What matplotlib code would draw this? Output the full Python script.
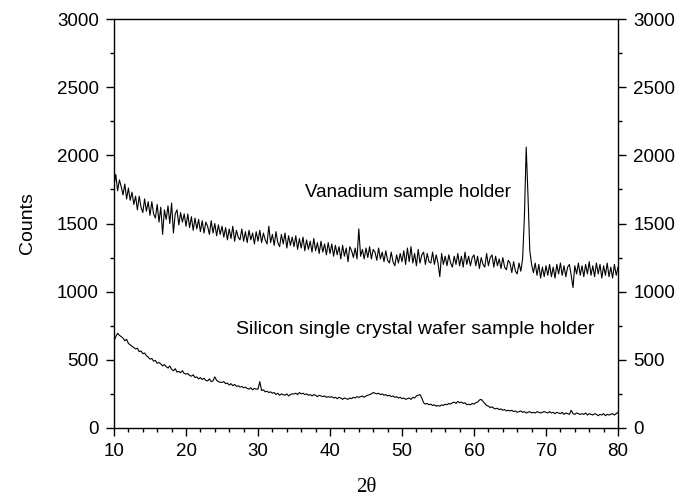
"""XRD background scans of two sample holders (counts vs 2-theta)."""

import matplotlib

matplotlib.use("Agg")
import matplotlib.pyplot as plt
import numpy as np
from matplotlib.ticker import MultipleLocator

# 2-theta grid, 0.25 deg steps from 10 to 80
two_theta = np.arange(281) * 0.25 + 10.0

vanadium = [
    1780, 1860, 1740, 1820, 1770, 1710, 1790, 1680, 1760, 1670, 1730, 1640, 1700, 1600, 1700, 1620, 1580, 1680, 1590, 1660,
    1560, 1660, 1570, 1540, 1640, 1510, 1620, 1420, 1600, 1530, 1630, 1500, 1650, 1430, 1570, 1600, 1490, 1580, 1510, 1570,
    1480, 1570, 1470, 1550, 1450, 1540, 1460, 1530, 1440, 1520, 1430, 1510, 1480, 1420, 1520, 1430, 1500, 1410, 1490, 1420,
    1480, 1400, 1470, 1380, 1460, 1390, 1480, 1370, 1450, 1400, 1380, 1460, 1370, 1440, 1360, 1450, 1380, 1430, 1350, 1440,
    1370, 1450, 1360, 1430, 1380, 1350, 1480, 1360, 1420, 1340, 1440, 1360, 1330, 1420, 1350, 1430, 1320, 1410, 1340, 1400,
    1330, 1410, 1310, 1390, 1320, 1400, 1300, 1380, 1310, 1370, 1290, 1390, 1300, 1360, 1280, 1370, 1290, 1350, 1270, 1360,
    1280, 1350, 1260, 1340, 1270, 1330, 1240, 1340, 1260, 1320, 1220, 1330, 1300, 1250, 1320, 1240, 1460, 1260, 1310, 1240,
    1320, 1250, 1330, 1240, 1310, 1290, 1230, 1320, 1240, 1290, 1220, 1300, 1230, 1210, 1290, 1220, 1190, 1270, 1210, 1280,
    1220, 1300, 1200, 1320, 1220, 1330, 1210, 1280, 1190, 1310, 1210, 1270, 1290, 1200, 1280, 1220, 1210, 1290, 1200, 1270,
    1210, 1110, 1280, 1200, 1260, 1190, 1270, 1210, 1180, 1260, 1200, 1280, 1190, 1260, 1180, 1290, 1200, 1260, 1190, 1250,
    1270, 1190, 1260, 1170, 1250, 1200, 1180, 1280, 1190, 1250, 1270, 1180, 1260, 1190, 1240, 1170, 1250, 1180, 1160, 1230,
    1210, 1140, 1220, 1150, 1130, 1210, 1150, 1240, 1550, 2060, 1700, 1300, 1200, 1140, 1210, 1120, 1200, 1100, 1180, 1110,
    1190, 1120, 1200, 1110, 1180, 1100, 1200, 1130, 1210, 1120, 1190, 1110, 1180, 1200, 1120, 1030, 1190, 1130, 1210, 1120,
    1190, 1110, 1200, 1130, 1220, 1120, 1190, 1110, 1210, 1130, 1200, 1100, 1190, 1120, 1210, 1110, 1180, 1100, 1200, 1120,
    1180,
]

silicon = [
    640, 670, 695, 680, 670, 660, 640, 650, 620, 610, 600, 590, 580, 585, 560, 565, 545, 550, 530, 520,
    505, 510, 490, 495, 475, 480, 470, 455, 465, 450, 440, 455, 430, 420, 435, 410, 415, 405, 420, 400,
    395, 400, 385, 380, 390, 370, 375, 360, 370, 355, 365, 350, 345, 360, 340, 345, 375, 350, 340, 335,
    335, 340, 325, 330, 315, 325, 310, 320, 305, 310, 300, 305, 295, 300, 290, 285, 295, 280, 290, 285,
    285, 340, 275, 280, 265, 270, 260, 265, 255, 260, 245, 255, 240, 250, 245, 240, 250, 235, 245, 250,
    250, 255, 245, 260, 250, 255, 245, 250, 240, 245, 235, 245, 240, 230, 240, 235, 230, 235, 225, 230,
    225, 230, 220, 225, 215, 225, 220, 210, 220, 215, 210, 220, 215, 225, 220, 230, 225, 230, 235, 225,
    235, 240, 245, 250, 260, 255, 250, 255, 245, 250, 240, 245, 235, 240, 230, 235, 225, 230, 220, 225,
    215, 220, 210, 215, 220, 210, 225, 220, 235, 240, 245, 220, 185, 175, 180, 170, 175, 165, 170, 160,
    165, 160, 170, 165, 175, 170, 180, 175, 185, 190, 180, 195, 185, 190, 180, 185, 170, 175, 170, 180,
    175, 185, 190, 205, 210, 195, 180, 165, 160, 150, 155, 145, 140, 145, 135, 140, 130, 135, 125, 130,
    125, 130, 120, 125, 115, 120, 125, 115, 120, 110, 115, 120, 110, 115, 110, 120, 115, 110, 115, 120,
    115, 110, 120, 110, 115, 105, 115, 110, 105, 115, 100, 110, 105, 100, 130, 105, 100, 110, 105, 100,
    105, 100, 110, 95, 105, 100, 95, 105, 100, 90, 100, 95, 105, 90, 100, 95, 100, 105, 95, 105,
    115,
]

plt.rcParams["font.family"] = ["Liberation Sans", "DejaVu Sans"]
plt.rcParams["font.size"] = 13.5

fig = plt.figure(figsize=(6.81, 4.98), dpi=100)
ax = fig.add_axes([0.1674, 0.1406, 0.7401, 0.8212])

ax.plot(two_theta, vanadium, color="black", lw=0.8)
ax.plot(two_theta, silicon, color="black", lw=0.8)

ax.text(36.5, 1730, "Vanadium sample holder", ha="left", va="center", fontsize=13.5)
ax.text(27.0, 726, "Silicon single crystal wafer sample holder",
        ha="left", va="center", fontsize=14)

ax.set_xlim(10, 80)
ax.set_ylim(0, 3000)
ax.xaxis.set_major_locator(MultipleLocator(10))
ax.xaxis.set_minor_locator(MultipleLocator(2))
ax.yaxis.set_major_locator(MultipleLocator(500))
ax.yaxis.set_minor_locator(MultipleLocator(250))

ax.tick_params(which="both", direction="out", width=1.0, colors="black",
               left=True, right=True, labelleft=True, labelright=True,
               top=False, bottom=True)
ax.tick_params(which="major", length=6, labelsize=13.5, pad=5)
ax.tick_params(which="minor", length=3)
for sp in ax.spines.values():
    sp.set_linewidth(1.0)

ax.set_ylabel("Counts", fontsize=14, labelpad=15)
ax.set_xlabel("2\u03b8", fontsize=15, family=["Liberation Serif", "DejaVu Serif"],
              labelpad=13)

fig.savefig("out.png", dpi=100)
plt.close(fig)
